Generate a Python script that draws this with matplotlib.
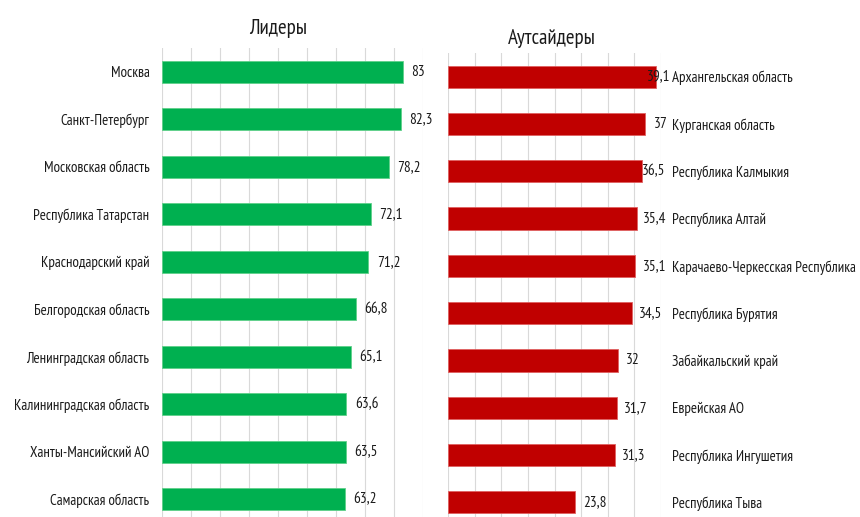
import matplotlib.pyplot as plt

plt.rcParams['font.family'] = ['PT Sans Narrow', 'DejaVu Sans']

# Лидеры
leaders = ['Москва', 'Санкт-Петербург', 'Московская область', 'Республика Татарстан',
           'Краснодарский край', 'Белгородская область', 'Ленинградская область',
           'Калининградская область', 'Ханты-Мансийский АО', 'Самарская область']
leaders_vals = [83, 82.3, 78.2, 72.1, 71.2, 66.8, 65.1, 63.6, 63.5, 63.2]

# Аутсайдеры
outsiders = ['Архангельская область', 'Курганская область', 'Республика Калмыкия',
             'Республика Алтай', 'Карачаево-Черкесская Республика', 'Республика Бурятия',
             'Забайкальский край', 'Еврейская АО', 'Республика Ингушетия', 'Республика Тыва']
outsiders_vals = [39.1, 37, 36.5, 35.4, 35.1, 34.5, 32, 31.7, 31.3, 23.8]

# сдвиг подписей значений у правой диаграммы (в пикселях)
out_label_shift = [-9, 9, 0, 6, 8, 7, 8, 7, 7, 8]

TXT = '#1a1a1a'
GRID = '#d9d9d9'
FS = 10.7


def fmt(v):
    return ('%g' % v).replace('.', ',')


def style_axes(ax, xmax, step):
    for s in ax.spines.values():
        s.set_visible(False)
    ax.set_xlim(0, xmax)
    ax.set_xticks(range(0, xmax + 1, step))
    ax.grid(axis='x', color=GRID, linewidth=0.8)
    ax.set_axisbelow(True)
    ax.tick_params(axis='x', length=0, labelbottom=False)
    ax.tick_params(axis='y', length=0, colors=TXT, labelsize=FS)


fig = plt.figure(figsize=(8.6, 5.17), dpi=100)

# левая диаграмма
ax1 = fig.add_axes([162 / 860, 1 - 523 / 517, 261 / 860, 475 / 517])
y1 = range(len(leaders))
ax1.barh(y1, leaders_vals, height=0.46, color='#00b050', edgecolor='#5fd08a', linewidth=0.6)
style_axes(ax1, 90, 10)
ax1.set_ylim(len(leaders) - 0.5, -0.5)
ax1.set_yticks(list(y1))
ax1.set_yticklabels(leaders)
ax1.tick_params(axis='y', pad=9)
for i, v in enumerate(leaders_vals):
    ax1.annotate(fmt(v), (v, i), xytext=(6, 0), textcoords='offset points',
                 va='center', ha='left', fontsize=FS + 0.3, color=TXT)
fig.text(278 / 860, 1 - 28 / 517, 'Лидеры', fontsize=15, color=TXT,
         ha='center', va='center')

# правая диаграмма
ax2 = fig.add_axes([448 / 860, 1 - 526 / 517, 213 / 860, 473 / 517])
y2 = range(len(outsiders))
ax2.barh(y2, outsiders_vals, height=0.47, color='#c00000', edgecolor='#e06060', linewidth=0.6)
style_axes(ax2, 40, 5)
ax2.set_ylim(len(outsiders) - 0.5, -0.5)
ax2.set_yticks(list(y2))
ax2.set_yticklabels(outsiders)
ax2.tick_params(axis='y', left=False, labelleft=False, right=False, labelright=True, pad=8)
for lab in ax2.get_yticklabels():
    lab.set_ha('left')
for i, v in enumerate(outsiders_vals):
    ax2.annotate(fmt(v), (v, i), xytext=(out_label_shift[i] * 0.72, 0),
                 textcoords='offset points', va='center', ha='left',
                 fontsize=FS + 0.3, color=TXT)
fig.text(552 / 860, 1 - 38 / 517, 'Аутсайдеры', fontsize=15, color=TXT,
         ha='center', va='center')

fig.savefig('out.png', dpi=100)
